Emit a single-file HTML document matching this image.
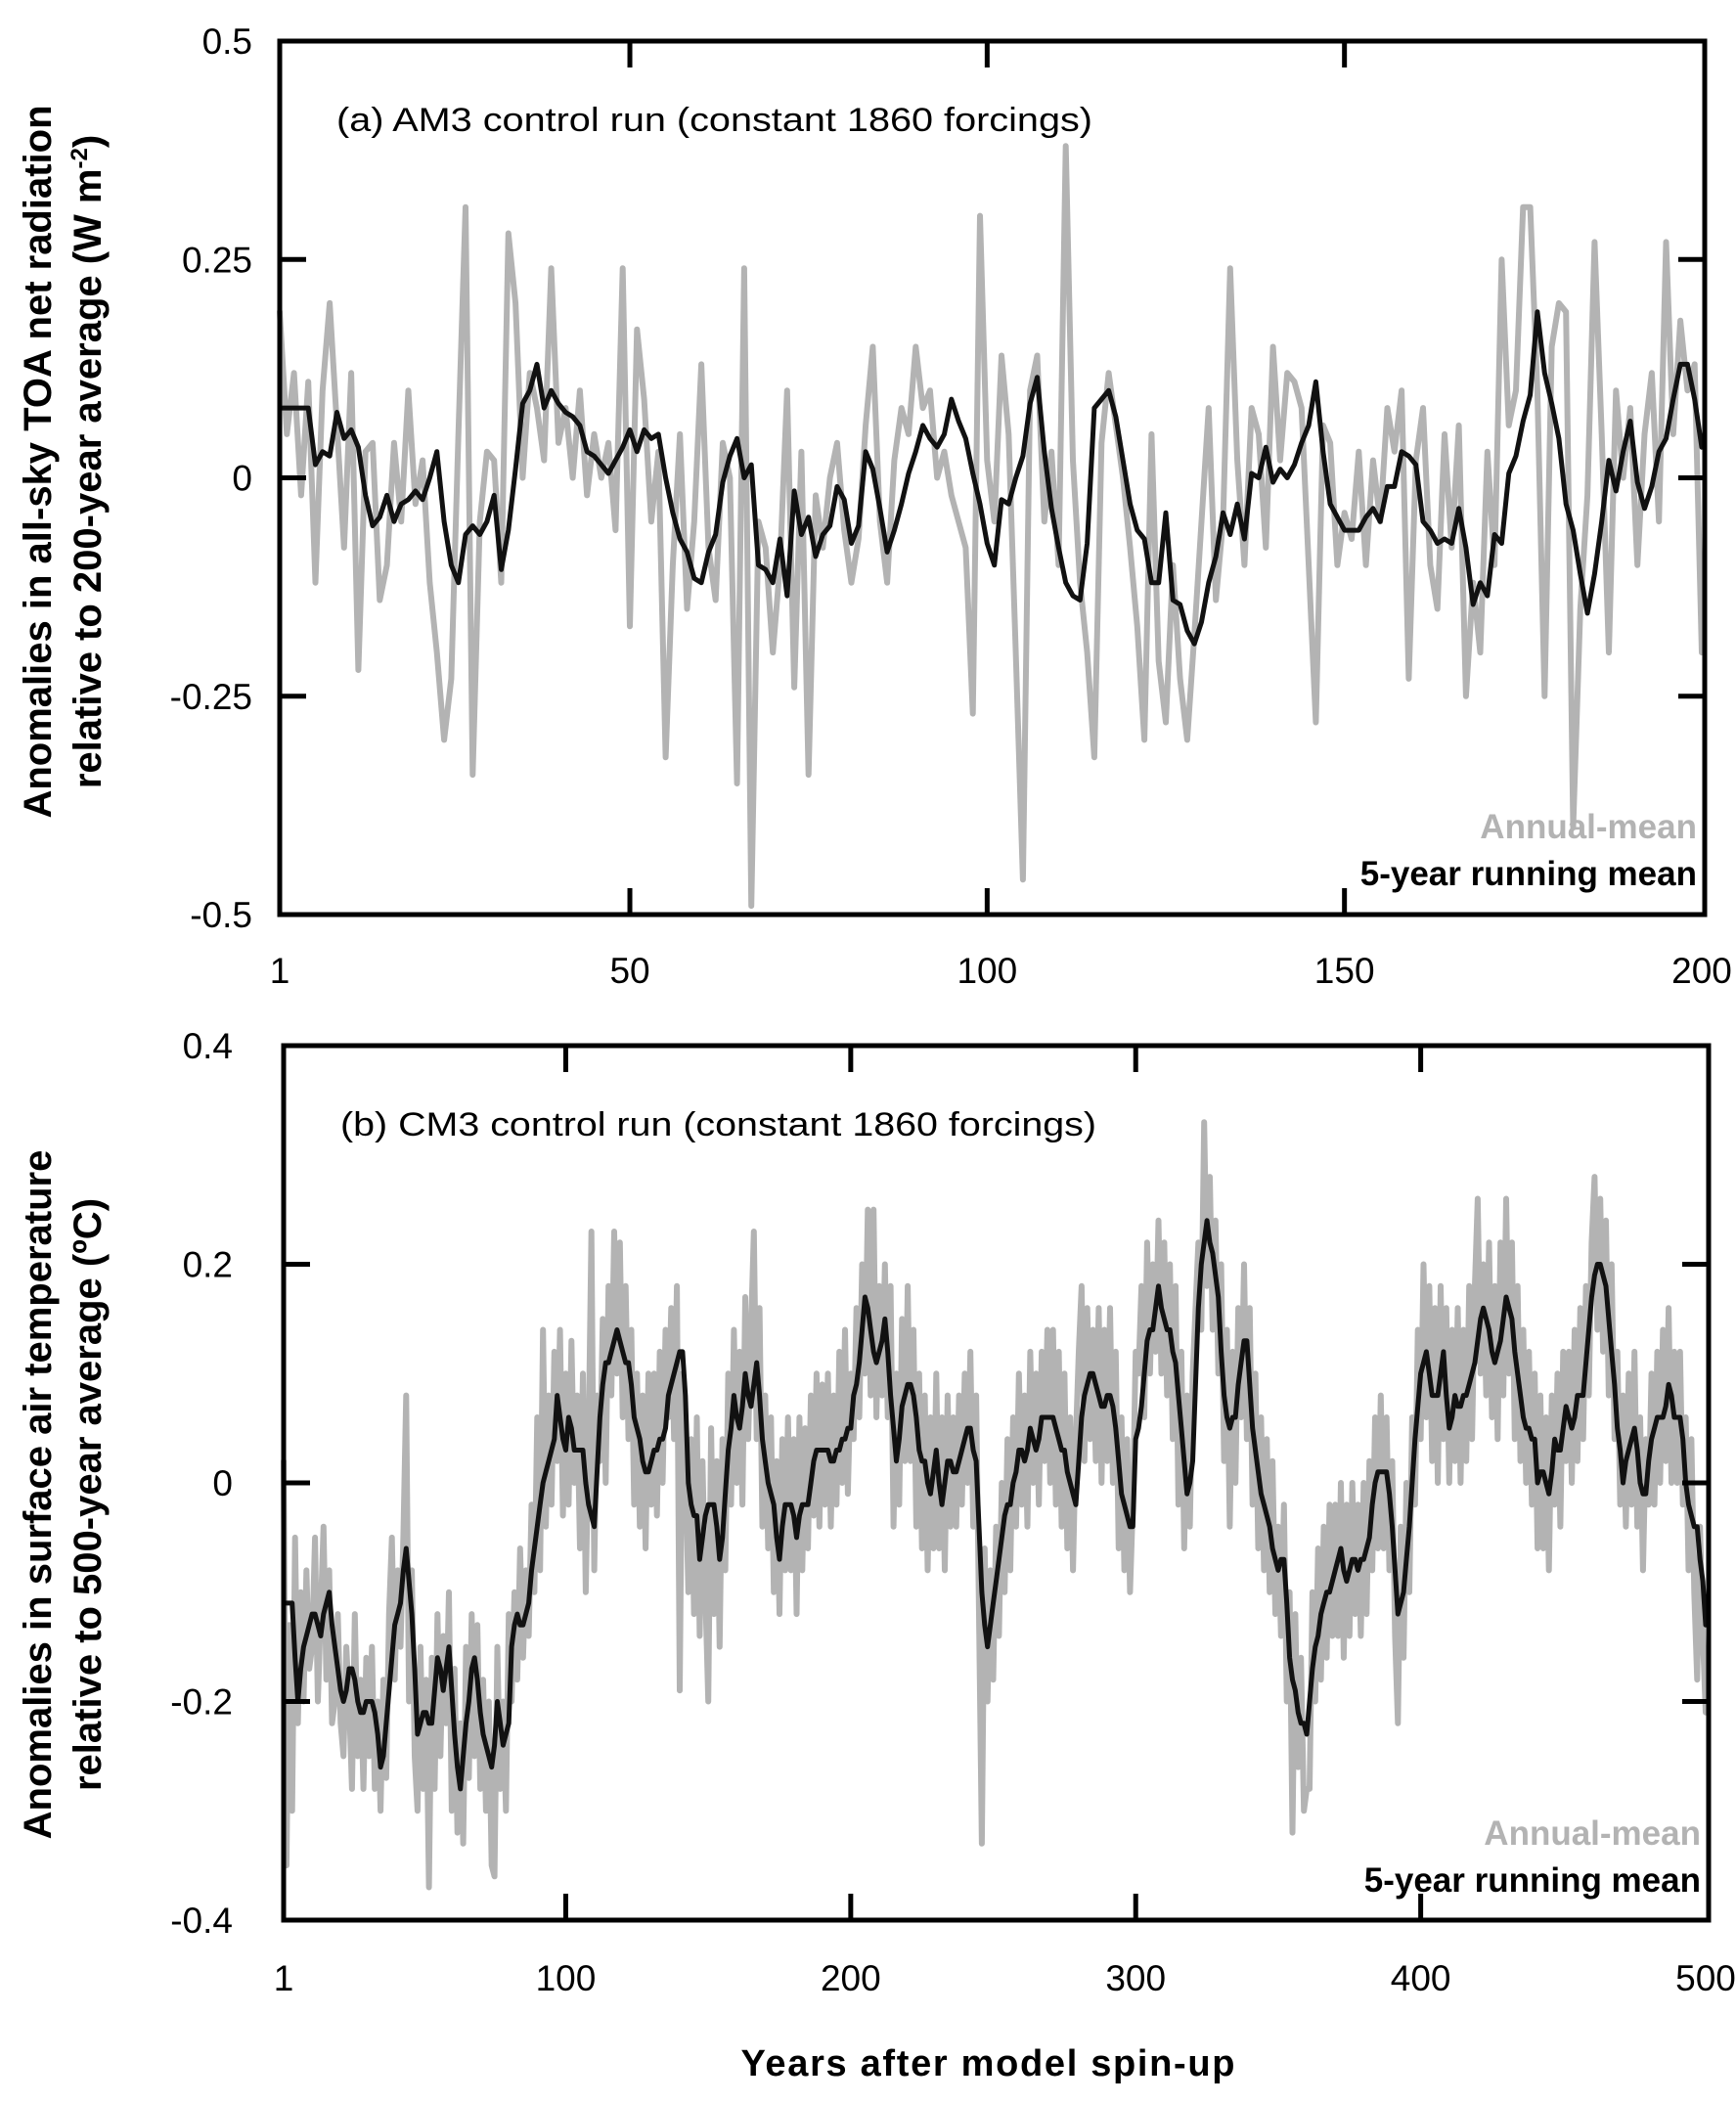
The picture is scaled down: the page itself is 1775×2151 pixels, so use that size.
<!DOCTYPE html>
<html><head><meta charset="utf-8"><style>
html,body{margin:0;padding:0;background:#fff}
svg{display:block}
text{font-family:"Liberation Sans",sans-serif}
</style></head><body>
<svg id="chart" width="1775" height="2151" viewBox="0 0 1775 2151" xmlns="http://www.w3.org/2000/svg">
<g id="pa"></g>
<g id="pb"></g>
<text x="1010" y="2122" font-size="38" font-weight="bold" text-anchor="middle" textLength="505">Years after model spin-up</text>
</svg>
<script>
const aTicksY = [0.5, 0.25, 0, -0.25, -0.5];
const aTickLabelsY = ["0.5", "0.25", "0", "-0.25", "-0.5"];
const aTicksX = [1, 50, 100, 150, 200];
const bTicksY = [0.4, 0.2, 0, -0.2, -0.4];
const bTickLabelsY = ["0.4", "0.2", "0", "-0.2", "-0.4"];
const bTicksX = [1, 100, 200, 300, 400, 500];

const aMean = [8,8,8,8,8,1.5,3,2.5,7.5,4.5,5.5,3.5,-2,-5.5,-4.5,-2,-5,-3,-2.5,-1.5,
-2.5,0,3,-5,-10,-12,-6.5,-5.5,-6.5,-5,-2,-10.5,-6,1,8.5,10,13,8,10,8.5,
7.5,7,6,3,2.5,1.5,0.5,2,3.5,5.5,3,5.5,4.5,5,0,-4,-7,-8.5,-11.5,-12,
-8.5,-6.5,-0.5,2.5,4.5,0,1.5,-10,-10.5,-12,-7,-13.5,-1.5,-6.5,-4.5,-9,-6.5,-5.5,-1,-2.5,
-7.5,-5.5,3,1,-3.5,-8.5,-6,-3,0.5,3,6,4.5,3.5,5,9,6.5,4.5,0.5,-3,-7.5,
-10,-2.5,-3,0,2.5,8.5,11.5,3,-3.5,-8,-12,-13.5,-14,-7.5,8,9,10,7,2,-3,
-6,-7,-12,-12,-4,-14,-14.5,-17.5,-19,-16.5,-12,-9,-4,-6.5,-3,-7,0.5,0,3.5,-0.5,
1,0,1.5,4,6,11,3,-3,-4.5,-6,-6,-6,-4.5,-3.5,-5,-1,-1,3,2.5,1.5,
-5,-6,-7.5,-7,-7.5,-3.5,-8,-14.5,-12,-13.5,-6.5,-7.5,0.5,2.5,6.5,9.5,19,12,8.5,4.5,
-3,-6,-11,-15.5,-11,-5,2,-1.5,3,6.5,-0.5,-3.5,-1,3,4.5,9,13,13,9,3.5];
const aAnnual = [19,5,12,-2,11,-12,10,20,6,-8,12,-22,3,4,-14,-10,4,-5,10,-3,
2,-12,-20,-30,-23,5,31,-34,-5,3,2,-12,28,20,0,12,8,2,24,4,
8,0,10,-2,5,0,4,-6,24,-17,17,9,-5,3,-32,-10,5,-15,-5,13,
-8,-14,4,0,-35,24,-49,-5,-8,-20,-10,10,-24,3,-34,-2,-8,0,4,-6,
-12,-7,6,15,-5,-12,2,8,5,15,8,10,0,3,-2,-5,-8,-27,30,2,
-5,14,5,-20,-46,10,14,-5,3,-10,38,2,-12,-20,-32,4,12,6,0,-8,
-17,-30,5,-21,-28,-10,-23,-30,-18,-5,8,-14,-5,24,2,-10,8,5,-8,15,
2,12,11,8,-10,-28,6,4,-10,-4,-7,3,-10,2,-5,8,3,10,-23,2,
8,-10,-15,5,-8,6,-25,-12,-20,3,-10,25,6,10,31,31,10,-25,15,20,
19,-40,-15,-2,27,5,-20,10,0,8,-10,5,12,-5,27,5,18,10,13,-20];

const bMean = [-11,-11,-11,-11,-16,-20,-17,-15,-14,-13,-12,-12,-13,-14,-12,-11,-10,-13,-15,-17,
-19,-20,-19,-17,-17,-18,-20,-21,-21,-20,-20,-20,-21,-23,-26,-25,-22,-19,-16,-13,
-12,-11,-8,-6,-9,-12,-17,-23,-22,-21,-21,-22,-22,-19,-16,-17,-19,-17,-15,-19,
-23,-26,-28,-25,-22,-20,-17,-16,-18,-21,-23,-24,-25,-26,-24,-20,-22,-24,-23,-22,
-15,-13,-12,-13,-13,-12,-11,-8,-6,-4,-2,0,1,2,3,4,8,6,4,3,
6,5,3,3,3,3,0,-2,-3,-4,1,6,9,11,11,12,13,14,13,12,
11,11,9,6,5,4,2,1,1,2,3,3,4,4,5,8,9,10,11,12,
12,8,0,-2,-3,-3,-7,-5,-3,-2,-2,-2,-4,-7,-5,-1,3,5,8,6,
5,7,10,8,7,9,11,8,4,2,0,-1,-2,-5,-7,-4,-2,-2,-2,-3,
-5,-3,-2,-2,-2,0,2,3,3,3,3,3,2,2,3,3,4,4,5,5,
8,9,11,14,17,16,14,12,11,12,13,15,12,8,5,2,4,7,8,9,
9,8,6,3,2,2,0,-1,1,3,0,-2,0,2,2,1,1,2,3,4,
5,5,3,2,-4,-10,-13,-15,-13,-11,-9,-7,-5,-3,-2,-2,0,1,3,3,
2,3,5,4,3,4,6,6,6,6,6,5,4,3,3,1,0,-1,-2,2,
6,8,9,10,10,9,8,7,7,8,8,7,5,2,-1,-2,-3,-4,-4,4,
5,7,10,13,14,14,16,18,16,15,14,14,12,11,8,5,2,-1,0,2,
9,16,20,22,24,22,21,19,17,12,8,6,5,6,6,9,11,13,13,9,
5,3,1,-1,-2,-3,-4,-6,-7,-8,-7,-7,-11,-16,-18,-19,-21,-22,-22,-23,
-20,-17,-15,-14,-12,-11,-10,-10,-9,-8,-7,-6,-8,-9,-8,-7,-7,-8,-7,-7,
-6,-5,-2,0,1,1,1,1,-1,-4,-8,-12,-11,-10,-7,-4,0,4,7,10,
11,12,10,8,8,8,10,12,8,5,6,8,7,7,8,8,9,10,11,13,
15,16,15,14,12,11,12,13,15,17,16,15,12,10,8,6,5,5,4,4,
0,1,1,0,-1,1,4,3,3,5,7,6,5,6,8,8,8,11,14,17,
19,20,20,19,18,15,12,9,5,3,0,2,3,4,5,3,0,-1,-1,2,
4,5,6,6,6,7,9,8,6,6,6,4,0,-2,-3,-4,-4,-7,-9,-13];
const bAnnual = [2,-35,-13,-30,-5,-22,-10,-20,-8,-17,-15,-5,-20,-12,-4,-18,-8,-22,-20,-12,
-22,-25,-15,-20,-28,-12,-25,-18,-28,-16,-25,-15,-28,-20,-30,-18,-27,-12,-5,-18,
-8,-15,-5,8,-20,-8,-25,-30,-15,-28,-18,-37,-16,-28,-12,-25,-14,-22,-10,-30,
-17,-32,-22,-33,-15,-27,-12,-25,-13,-28,-18,-30,-20,-35,-36,-15,-28,-20,-30,-12,
-20,-10,-18,-6,-16,-8,-14,-2,-10,6,-8,14,-4,8,-2,12,2,14,-3,10,
-2,13,0,8,-6,10,-10,4,23,-8,8,2,15,0,18,8,23,10,22,6,
18,4,14,-2,10,-4,8,-6,10,-2,10,-3,12,0,14,6,16,4,18,-19,
10,2,-10,4,-12,6,-14,2,-10,-20,5,-12,2,-15,4,-8,10,-2,14,0,
12,-2,17,4,14,23,4,16,-4,8,-6,6,-10,2,-12,4,-8,6,-8,4,
-12,6,-8,5,-6,8,-3,10,-4,9,-2,10,-4,8,-2,12,0,14,-1,10,
4,16,6,20,10,25,8,25,6,18,8,20,6,18,-4,10,-2,15,2,18,
2,14,-4,10,-6,8,-8,6,-6,10,-6,6,-8,8,-4,6,-4,8,-2,10,
0,12,-4,8,-12,-33,-6,-20,-8,-18,-4,-14,0,-10,4,-8,6,-4,10,-2,
8,-4,12,0,10,-2,12,2,14,0,14,-2,12,-4,10,-6,6,-8,4,12,
18,2,16,4,14,2,16,0,14,2,16,0,12,-6,6,-8,4,-10,-2,12,
10,18,6,22,10,20,12,24,10,22,8,20,4,18,-2,12,-6,8,-4,10,
16,22,14,33,18,28,14,24,10,20,2,14,-4,12,0,16,6,20,4,16,
-2,10,-6,6,-8,4,-10,2,-12,-4,-14,-2,-20,-10,-32,-12,-26,-16,-30,-28,
-28,-10,-20,-6,-18,-4,-16,-2,-14,-2,-14,0,-16,-2,-14,0,-12,-2,-14,0,
-12,2,-8,6,-6,8,-6,6,-8,2,-14,-22,-4,-16,0,-10,6,-2,14,4,
20,6,18,2,16,0,18,4,16,0,14,2,16,0,14,2,18,4,18,26,
10,20,8,22,6,18,4,22,8,26,10,22,4,18,2,14,0,12,-2,10,
-6,8,-6,6,-8,8,-2,10,-4,12,2,12,0,14,2,16,4,18,8,22,
28,14,26,12,24,8,20,4,12,-2,8,-4,10,-2,12,-4,6,-8,4,-2,
10,-2,12,0,14,2,16,0,12,0,12,-2,6,-8,4,-10,-18,-4,-14,-21];

const NS = "http://www.w3.org/2000/svg";
function mk(tag, attrs, parent){const e=document.createElementNS(NS,tag);for(const k in attrs)e.setAttribute(k,attrs[k]);parent.appendChild(e);return e;}

function drawPanel(g, cfg){
  const {L,R,T,B,x1,x2,ymax,ymin,ticksY,labelsY,ticksX,annual,mean,labelRight,title,ytitle1,ytitle2,ytitleY,key}=cfg;
  const x2pix = cfg.x2pix;
  const sx = v => L + (v - x1) * (x2pix - L) / (x2 - x1);
  const sy = v => T + (ymax - v) * (B - T) / (ymax - ymin);
  const gp = annual.map((v,i)=> sx(i+1).toFixed(1)+","+sy(v/100).toFixed(1)).join(" ");
  const gl = mk("polyline",{points:gp,fill:"none",stroke:"#b3b3b3","stroke-width":6,"stroke-linejoin":"round","stroke-linecap":"round"},g);
  
  
  const bp = mean.map((v,i)=> sx(i+1).toFixed(1)+","+sy(v/100).toFixed(1)).join(" ");
  const bl = mk("polyline",{points:bp,fill:"none",stroke:"#111","stroke-width":5,"stroke-linejoin":"round","stroke-linecap":"round"},g);
  
  
  const fr = mk("rect",{x:L,y:T,width:R-L,height:B-T,fill:"none",stroke:"#000","stroke-width":5},g);
  
  
  ticksY.forEach((t,i)=>{
    const y = sy(t);
    if(i>0 && i<ticksY.length-1){
      const a = mk("line",{x1:L,x2:L+27,y1:y,y2:y,stroke:"#000","stroke-width":5},g);
      
      
      const b = mk("line",{x1:R-27,x2:R,y1:y,y2:y,stroke:"#000","stroke-width":5},g);
      
      
    }
    const tx = mk("text",{x:labelRight,y:y+13,"font-size":37,"text-anchor":"end"},g);
    tx.textContent = labelsY[i];
    
    
  });
  ticksX.forEach((t,i)=>{
    const x = sx(t);
    if(i>0 && i<ticksX.length-1){
      const a = mk("line",{x1:x,x2:x,y1:T,y2:T+27,stroke:"#000","stroke-width":5},g);
      
      
      const b = mk("line",{x1:x,x2:x,y1:B-27,y2:B,stroke:"#000","stroke-width":5},g);
      
      
    }
    const tx = mk("text",{x:x,y:cfg.xLabelY,"font-size":37,"text-anchor":"middle"},g);
    tx.textContent = String(t);
    
    
  });
  const ti = mk("text",{x:L+58,y:T+92,"font-size":34,textLength:cfg.titleLen,lengthAdjust:"spacingAndGlyphs"},g);
  ti.textContent = title;
  
  
  const l1 = mk("text",{x:R-8,y:cfg.leg1,"font-size":35,"font-weight":"bold","text-anchor":"end",fill:"#b3b3b3"},g);
  l1.textContent = "Annual-mean";
  
  
  const l2 = mk("text",{x:R-8,y:cfg.leg2,"font-size":35,"font-weight":"bold","text-anchor":"end",fill:"#000"},g);
  l2.textContent = "5-year running mean";
  
  
  const yt = mk("text",{transform:`translate(52,${ytitleY}) rotate(-90)`,"font-size":40,"font-weight":"bold","text-anchor":"middle"},g);
  
  
  const s1 = mk("tspan",{x:0,y:0},yt); s1.innerHTML = ytitle1;
  const s2 = mk("tspan",{x:0,y:51},yt); s2.innerHTML = ytitle2;
}

drawPanel(document.getElementById("pa"),{L:286,R:1743,T:42,B:935,x1:1,x2:200,x2pix:1740,ymax:0.5,ymin:-0.5,
  ticksY:aTicksY,labelsY:aTickLabelsY,ticksX:aTicksX,annual:aAnnual,mean:aMean,labelRight:258,xLabelY:1005,
  title:"(a)   AM3 control run (constant 1860 forcings)",titleLen:773,leg1:857,leg2:905,key:"panel-a",
  ytitle1:"Anomalies in all-sky TOA net radiation",ytitle2:"relative to 200-year average (W m<tspan font-size='24' dy='-14'>-2</tspan><tspan dy='14'>)</tspan>",ytitleY:472});
drawPanel(document.getElementById("pb"),{L:290,R:1747,T:1069,B:1963,x1:1,x2:500,x2pix:1744,ymax:0.4,ymin:-0.4,
  ticksY:bTicksY,labelsY:bTickLabelsY,ticksX:bTicksX,annual:bAnnual,mean:bMean,labelRight:238,xLabelY:2035,
  title:"(b)   CM3 control run (constant 1860 forcings)",titleLen:773,leg1:1886,leg2:1934,key:"panel-b",
  ytitle1:"Anomalies in surface air temperature",ytitle2:"relative to 500-year average (ºC)",ytitleY:1528});
</script>
</body></html>
